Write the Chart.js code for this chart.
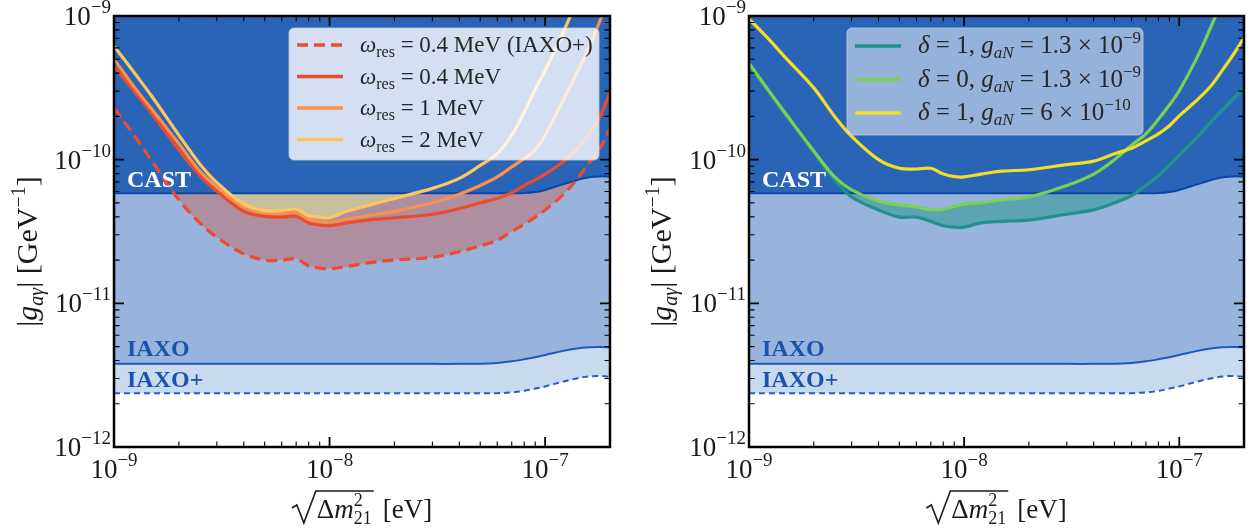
<!DOCTYPE html>
<html lang="en">
<head>
<meta charset="UTF-8" />
<title>Axion-photon coupling reach</title>
<script src="https://cdn.jsdelivr.net/npm/chart.js"></script>
<style>
  body { margin: 0; background: #fff; }
  .panels { display: flex; width: 1252px; height: 531px; }
  canvas { display: block; }
</style>
</head>
<body>
<div class="panels">
  <canvas id="leftChart" width="626" height="531"></canvas>
  <canvas id="rightChart" width="626" height="531"></canvas>
</div>
<script>
// sqrt(dm^2_21) in eV, shared grid for every curve
const massGrid = [1e-9, 1.25e-9, 1.5e-9, 2e-9, 2.5e-9, 3e-9, 4e-9, 5e-9, 6e-9, 7e-9, 8e-9, 9e-9,
  1e-8, 1.2e-8, 1.5e-8, 2e-8, 3e-8, 4e-8, 5e-8, 6e-8, 7e-8, 8e-8, 9e-8,
  1e-7, 1.2e-7, 1.4e-7, 1.6e-7, 1.8e-7, 2e-7];

// helioscope bounds on |g_a gamma| [GeV^-1]
const castLimit = [5.83e-11, 5.83e-11, 5.83e-11, 5.83e-11, 5.83e-11, 5.83e-11, 5.83e-11, 5.83e-11, 5.83e-11, 5.83e-11, 5.83e-11, 5.83e-11,
  5.83e-11, 5.83e-11, 5.83e-11, 5.83e-11, 5.83e-11, 5.83e-11, 5.83e-11, 5.83e-11, 5.83e-11, 5.85e-11, 5.95e-11,
  6.15e-11, 6.7e-11, 7.2e-11, 7.55e-11, 7.65e-11, 7.6e-11];
const iaxoReach = [3.79e-12, 3.79e-12, 3.79e-12, 3.79e-12, 3.79e-12, 3.79e-12, 3.79e-12, 3.79e-12, 3.79e-12, 3.79e-12, 3.79e-12, 3.79e-12,
  3.79e-12, 3.79e-12, 3.79e-12, 3.79e-12, 3.79e-12, 3.79e-12, 3.8e-12, 3.85e-12, 3.95e-12, 4.08e-12, 4.22e-12,
  4.37e-12, 4.65e-12, 4.85e-12, 4.95e-12, 4.97e-12, 4.93e-12];
const iaxoPlusReach = [2.37e-12, 2.37e-12, 2.37e-12, 2.37e-12, 2.37e-12, 2.37e-12, 2.37e-12, 2.37e-12, 2.37e-12, 2.37e-12, 2.37e-12, 2.37e-12,
  2.37e-12, 2.37e-12, 2.37e-12, 2.37e-12, 2.37e-12, 2.37e-12, 2.37e-12, 2.37e-12, 2.4e-12, 2.46e-12, 2.55e-12,
  2.64e-12, 2.84e-12, 3.0e-12, 3.1e-12, 3.12e-12, 3.08e-12];

// left panel: resonance energy scan
const omegaLabels = ['0.4 MeV (IAXO+)', '0.4 MeV', '1 MeV', '2 MeV'];
const res04Plus = [2.29e-10, 1.45e-10, 9.77e-11, 5.25e-11, 3.63e-11, 2.88e-11, 2.21e-11, 2.0e-11, 2.0e-11, 2.04e-11, 1.82e-11, 1.76e-11,
  1.74e-11, 1.8e-11, 1.91e-11, 2.0e-11, 2.09e-11, 2.29e-11, 2.51e-11, 2.75e-11, 3.16e-11, 3.55e-11, 3.98e-11,
  4.47e-11, 5.62e-11, 7.24e-11, 9.55e-11, 1.2e-10, 1.66e-10];
const res04 = [4.47e-10, 2.95e-10, 2.09e-10, 1.17e-10, 7.76e-11, 6.03e-11, 4.37e-11, 4.03e-11, 3.98e-11, 4.03e-11, 3.63e-11, 3.51e-11,
  3.47e-11, 3.63e-11, 3.8e-11, 3.94e-11, 4.17e-11, 4.57e-11, 5.01e-11, 5.37e-11, 5.89e-11, 6.61e-11, 7.24e-11,
  7.94e-11, 9.55e-11, 1.17e-10, 1.51e-10, 2.0e-10, 2.95e-10];
const res1 = [5.01e-10, 3.16e-10, 2.24e-10, 1.29e-10, 8.32e-11, 6.46e-11, 4.68e-11, 4.27e-11, 4.22e-11, 4.27e-11, 3.85e-11, 3.72e-11,
  3.67e-11, 3.85e-11, 4.07e-11, 4.37e-11, 5.01e-11, 5.75e-11, 6.61e-11, 7.59e-11, 8.91e-11, 1.02e-10, 1.17e-10,
  1.48e-10, 2.51e-10, 3.98e-10, 6.03e-10, 9.33e-10, 1.41e-9];
const res2 = [6.17e-10, 3.98e-10, 2.75e-10, 1.48e-10, 9.33e-11, 6.92e-11, 4.9e-11, 4.42e-11, 4.42e-11, 4.52e-11, 4.07e-11, 3.98e-11,
  3.94e-11, 4.37e-11, 4.79e-11, 5.37e-11, 6.31e-11, 7.41e-11, 9.12e-11, 1.1e-10, 1.48e-10, 2.14e-10, 3.09e-10,
  4.17e-10, 7.41e-10, 1.26e-9, 2.0e-9, 3.0e-9, 4.5e-9];

// right panel: nucleon coupling scan (delta, g_aN mantissa, g_aN exponent)
const nucleonLabels = [['1', '1.3', '−9'], ['0', '1.3', '−9'], ['1', '6', '−10']];
const d1g13 = [4.57e-10, 2.88e-10, 2.0e-10, 1.12e-10, 7.24e-11, 5.5e-11, 4.47e-11, 3.98e-11, 3.98e-11, 3.72e-11, 3.47e-11, 3.39e-11,
  3.39e-11, 3.63e-11, 3.72e-11, 3.8e-11, 4.17e-11, 4.47e-11, 5.01e-11, 5.62e-11, 6.61e-11, 7.76e-11, 9.12e-11,
  1.07e-10, 1.41e-10, 1.82e-10, 2.24e-10, 2.69e-10, 3.16e-10];
const d0g13 = [4.68e-10, 2.95e-10, 2.04e-10, 1.15e-10, 7.59e-11, 6.17e-11, 5.13e-11, 4.84e-11, 4.68e-11, 4.47e-11, 4.52e-11, 4.73e-11,
  4.9e-11, 5.01e-11, 5.25e-11, 5.5e-11, 6.61e-11, 7.94e-11, 1.0e-10, 1.26e-10, 1.51e-10, 1.91e-10, 2.4e-10,
  3.02e-10, 5.01e-10, 8.32e-10, 1.32e-9, 1.91e-9, 2.69e-9];
const d1g06 = [9.55e-10, 6.76e-10, 5.01e-10, 3.16e-10, 2.0e-10, 1.45e-10, 1.0e-10, 8.71e-11, 8.61e-11, 8.71e-11, 7.94e-11, 7.62e-11,
  7.59e-11, 7.94e-11, 8.32e-11, 8.51e-11, 9.23e-11, 9.77e-11, 1.1e-10, 1.2e-10, 1.35e-10, 1.51e-10, 1.72e-10,
  2.02e-10, 2.57e-10, 3.24e-10, 4.27e-10, 5.5e-10, 7.08e-10];

const xTickExps = [-9, -8, -7];
const yTickExps = [-12, -11, -10, -9];

const DARK = '#2a64b7', MID = '#98b4dc', PALE = '#cadaee';
const SERIF = '"Liberation Serif", "DejaVu Serif", serif';

const pts = ys => massGrid.map((x, i) => ({ x, y: ys[i] }));

function fontOf(p) {
  return (p.it ? 'italic ' : '') + (p.b ? 'bold ' : '') + p.s + 'px ' + SERIF;
}

// lays out text runs; a run with stack:true sits over the previous one (sub/sup pairs)
function drawRich(ctx, parts, x, y, align) {
  let cur = 0, lastStart = 0, lastW = 0;
  const placed = [];
  for (const p of parts) {
    ctx.font = fontOf(p);
    const w = ctx.measureText(p.t).width;
    if (p.stack) {
      placed.push({ p, x: lastStart });
      lastW = Math.max(lastW, w);
      cur = lastStart + lastW;
    } else {
      placed.push({ p, x: cur });
      lastStart = cur; lastW = w; cur += w;
    }
  }
  let x0 = x;
  if (align === 'center') x0 = x - cur / 2;
  else if (align === 'right') x0 = x - cur;
  ctx.textBaseline = 'alphabetic';
  ctx.textAlign = 'left';
  for (const { p, x: px } of placed) {
    ctx.font = fontOf(p);
    ctx.fillText(p.t, x0 + px, y + (p.dy || 0));
  }
  return cur;
}

function powerLabel(exp) {
  return [{ t: '10', s: 27 }, { t: '−' + Math.abs(exp), s: 19, dy: -12 }];
}

function bandDatasets() {
  return [
    { data: pts(castLimit), fill: 'end', backgroundColor: DARK, borderWidth: 0, order: 20 },
    { data: pts(iaxoReach), fill: 0, backgroundColor: MID, borderWidth: 0, order: 19 },
    { data: pts(iaxoPlusReach), fill: 1, backgroundColor: PALE, borderWidth: 0, order: 18 }
  ];
}

function boundLines() {
  return [
    { data: pts(iaxoPlusReach), borderColor: '#2160c2', borderWidth: 2, borderDash: [6, 4], fill: false, order: 6 },
    { data: pts(iaxoReach), borderColor: '#1c59bd', borderWidth: 2, fill: false, order: 6 },
    { data: pts(castLimit), borderColor: '#0a47a5', borderWidth: 2, fill: false, order: 6 }
  ];
}

function curve(ys, color, order, dash) {
  return { data: pts(ys), borderColor: color, borderWidth: 3.2, borderDash: dash || [], fill: false, order };
}

// overlay plugin: axes frame, inward ticks, labels, legend
function overlay(cfg) {
  return {
    id: 'overlay',
    afterDatasetsDraw(chart) {
      const { ctx, chartArea: a, scales: { x, y } } = chart;
      ctx.save();

      // bound labels
      ctx.fillStyle = '#ffffff';
      drawRich(ctx, [{ t: 'CAST', s: 24, b: true }], a.left + 13, y.getPixelForValue(castLimit[0]) - 6, 'left');
      ctx.fillStyle = '#1b52ad';
      drawRich(ctx, [{ t: 'IAXO', s: 24, b: true }], a.left + 13, y.getPixelForValue(iaxoReach[0]) - 8, 'left');
      drawRich(ctx, [{ t: 'IAXO+', s: 24, b: true }], a.left + 13, y.getPixelForValue(iaxoPlusReach[0]) - 6, 'left');

      // legend
      const L = cfg.legend;
      ctx.beginPath();
      ctx.roundRect(L.x, L.y, L.w, L.h, 5);
      ctx.fillStyle = L.bg;
      ctx.fill();
      ctx.strokeStyle = 'rgba(204,204,204,0.8)';
      ctx.lineWidth = 1;
      ctx.stroke();
      L.rows.forEach((r, i) => {
        const ry = L.y + L.first + i * L.step;
        ctx.beginPath();
        ctx.setLineDash(r.dash || []);
        ctx.strokeStyle = r.color;
        ctx.lineWidth = 3.5;
        ctx.moveTo(L.x + 8, ry);
        ctx.lineTo(L.x + 54, ry);
        ctx.stroke();
        ctx.setLineDash([]);
        ctx.fillStyle = '#262626';
        drawRich(ctx, r.parts, L.x + L.textX, ry + 7, 'left');
      });

      // frame
      ctx.strokeStyle = '#000';
      ctx.lineWidth = 2.5;
      ctx.strokeRect(a.left, a.top, a.right - a.left, a.bottom - a.top);

      // inward ticks on all four sides
      for (let e = -9; e <= -7; e++) {
        for (let k = 1; k <= 9; k++) {
          const px = x.getPixelForValue(k * Math.pow(10, e));
          if (px < a.left + 1 || px > a.right - 1) continue;
          const len = k === 1 ? 10 : 5.5;
          ctx.lineWidth = k === 1 ? 1.8 : 1.1;
          ctx.beginPath();
          ctx.moveTo(px, a.bottom); ctx.lineTo(px, a.bottom - len);
          ctx.moveTo(px, a.top); ctx.lineTo(px, a.top + len);
          ctx.stroke();
        }
      }
      for (let e = -12; e <= -10; e++) {
        for (let k = 1; k <= 9; k++) {
          const py = y.getPixelForValue(k * Math.pow(10, e));
          if (py < a.top + 1 || py > a.bottom - 1) continue;
          const len = k === 1 ? 10 : 5.5;
          ctx.lineWidth = k === 1 ? 1.8 : 1.1;
          ctx.beginPath();
          ctx.moveTo(a.left, py); ctx.lineTo(a.left + len, py);
          ctx.moveTo(a.right, py); ctx.lineTo(a.right - len, py);
          ctx.stroke();
        }
      }

      // tick labels
      ctx.fillStyle = '#1a1a1a';
      xTickExps.forEach(e => {
        drawRich(ctx, powerLabel(e), x.getPixelForValue(Math.pow(10, e)), a.bottom + 31, 'center');
      });
      yTickExps.forEach(e => {
        drawRich(ctx, powerLabel(e), a.left - 3, y.getPixelForValue(Math.pow(10, e)) + 9, 'right');
      });

      // y title, rotated
      ctx.save();
      ctx.translate(cfg.yTitleX, (a.top + a.bottom) / 2 + 20);
      ctx.rotate(-Math.PI / 2);
      drawRich(ctx, [
        { t: '|', s: 30 }, { t: 'g', s: 30, it: true }, { t: 'aγ', s: 20, it: true, dy: 6 },
        { t: '| [GeV', s: 30 }, { t: '−1', s: 20, dy: -12 }, { t: ']', s: 30 }
      ], 0, 0, 'center');
      ctx.restore();

      // x title: sqrt(Δm²₂₁) [eV]
      const inner = [{ t: 'Δ', s: 27 }, { t: 'm', s: 27, it: true }, { t: '2', s: 18, dy: -12 }, { t: '21', s: 18, dy: 6, stack: true }];
      const tail = [{ t: '[eV]', s: 27 }];
      ctx.font = fontOf(tail[0]);
      const tailW = ctx.measureText('[eV]').width;
      const mctx = document.createElement('canvas').getContext('2d');
      const innerW = drawRich(mctx, inner, 0, -100, 'left');
      const radW = 24, gap = 9;
      const total = radW + innerW + 3 + gap + tailW;
      const cx = (a.left + a.right) / 2;
      const x0 = cx - total / 2;
      const base = 518;
      ctx.strokeStyle = '#1a1a1a';
      ctx.lineWidth = 1.6;
      ctx.beginPath();
      ctx.moveTo(x0, base - 10);
      ctx.lineTo(x0 + 5, base - 13);
      ctx.lineTo(x0 + 12, base + 5);
      ctx.lineTo(x0 + radW, base - 27);
      ctx.lineTo(x0 + radW + innerW + 3, base - 27);
      ctx.stroke();
      drawRich(ctx, inner, x0 + radW + 1, base, 'left');
      drawRich(ctx, tail, x0 + radW + innerW + 3 + gap, base, 'left');

      ctx.restore();
    }
  };
}

function makeChart(id, datasets, pad, cfg) {
  return new Chart(document.getElementById(id), {
    type: 'line',
    data: { datasets },
    options: {
      responsive: false,
      animation: false,
      layout: { padding: pad },
      elements: { point: { radius: 0 }, line: { tension: 0.35 } },
      plugins: { legend: { display: false }, tooltip: { enabled: false } },
      scales: {
        x: { type: 'logarithmic', min: 1e-9, max: 2e-7, display: false },
        y: { type: 'logarithmic', min: 1e-12, max: 1e-9, display: false }
      }
    },
    plugins: [overlay(cfg)]
  });
}

// ---- left panel ----
const omegaColors = ['#ef4a2f', '#ef4a2c', '#f7914f', '#fcc660'];
const leftSets = bandDatasets().concat([
  curve(res04Plus, omegaColors[0], 4, [11, 6]),   // 3
  curve(res04, omegaColors[1], 3),                // 4
  curve(res1, omegaColors[2], 2),                 // 5
  curve(res2, omegaColors[3], 1),                 // 6
  { data: pts(castLimit), borderWidth: 0, order: 17, fill: { target: 3, above: '#ae8fa1', below: 'rgba(0,0,0,0)' } },
  { data: pts(castLimit), borderWidth: 0, order: 16, fill: { target: 6, above: '#c8bf9e', below: 'rgba(0,0,0,0)' } }
], boundLines());

makeChart('leftChart', leftSets, { left: 114, right: 16, top: 16, bottom: 84 }, {
  yTitleX: 37,
  legend: {
    x: 289, y: 28, w: 310, h: 132, first: 17, step: 31.5, textX: 71, bg: 'rgba(255,255,255,0.8)',
    rows: omegaLabels.map((lab, i) => ({
      color: omegaColors[i], dash: i === 0 ? [11, 6] : null,
      parts: [{ t: 'ω', s: 23, it: true }, { t: 'res', s: 16, dy: 5 }, { t: ' = ' + lab, s: 23 }]
    }))
  }
});

// ---- right panel ----
const nucleonColors = ['#21918c', '#7ad151', '#f2dd27'];
const rightSets = bandDatasets().concat([
  curve(d1g13, nucleonColors[0], 3),   // 3
  curve(d0g13, nucleonColors[1], 2),   // 4
  curve(d1g06, nucleonColors[2], 1),   // 5
  { data: pts(castLimit), borderWidth: 0, order: 17, fill: { target: 3, above: '#5ca3b4', below: 'rgba(0,0,0,0)' } },
  { data: pts(castLimit), borderWidth: 0, order: 16, fill: { target: 4, above: MID, below: 'rgba(0,0,0,0)' } }
], boundLines());

makeChart('rightChart', rightSets, { left: 123, right: 8, top: 16, bottom: 84 }, {
  yTitleX: 45,
  legend: {
    x: 221, y: 28, w: 296, h: 107, first: 18, step: 33.5, textX: 71, bg: 'rgba(255,255,255,0.5)',
    rows: nucleonLabels.map((lab, i) => ({
      color: nucleonColors[i],
      parts: [{ t: 'δ', s: 25, it: true }, { t: ' = ' + lab[0] + ', ', s: 25 }, { t: 'g', s: 25, it: true },
        { t: 'aN', s: 17, it: true, dy: 5 }, { t: ' = ' + lab[1] + ' × 10', s: 25 }, { t: lab[2], s: 17, dy: -10 }]
    }))
  }
});
</script>
</body>
</html>
